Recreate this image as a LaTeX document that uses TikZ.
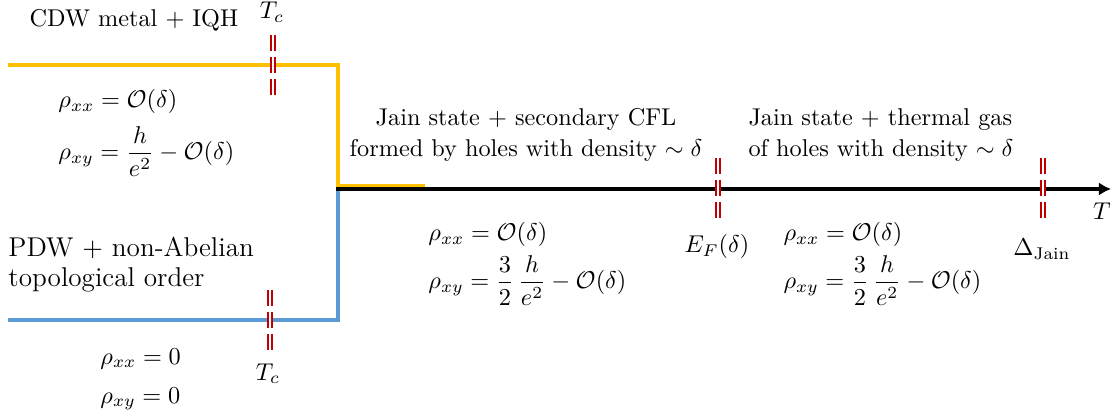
\documentclass[tikz,border=0pt]{standalone}
\usepackage{amsmath}
\usetikzlibrary{arrows.meta}
\definecolor{gold}{HTML}{FFC000}
\definecolor{sblue}{HTML}{5B9BD5}
\definecolor{mred}{HTML}{C00000}
\begin{document}
\begin{tikzpicture}[x=0.412pt,y=-0.412pt,
  lbl/.style={inner sep=0pt, anchor=base west},
  clbl/.style={inner sep=0pt, anchor=base},
  bigtxt/.style={font=\fontsize{11.2pt}{13pt}\selectfont},
  tmark/.style={draw=mred, double=white, double distance=0.8pt, line width=0.75pt, dash pattern=on 6.6pt off 2.5pt},
  phase/.style={line width=1.6pt, line join=miter},
]
\useasboundingbox (0,0) rectangle (1111,417);
% coordinates
\coordinate (o1) at (8,65);
\coordinate (o2) at (338,65);
\coordinate (o3) at (338,186);
\coordinate (o4) at (425,186);
\coordinate (b1) at (338,190);
\coordinate (b2) at (338,320);
\coordinate (b3) at (8,320);
\coordinate (a1) at (336,189);
\coordinate (a2) at (1111,189);
% lines
\draw[phase, gold] (o1) -- (o2) -- (o3) -- (o4);
\draw[phase, sblue] (b1) -- (b2) -- (b3);
\draw[phase, black, -{Latex[length=5pt,width=5.5pt]}] (a1) -- (a2);
% marks
\coordinate (m1a) at (273,35); \coordinate (m1b) at (273,95);
\coordinate (m2a) at (270,290); \coordinate (m2b) at (270,350);
\coordinate (m3a) at (718,158); \coordinate (m3b) at (718,218);
\coordinate (m4a) at (1043,158); \coordinate (m4b) at (1043,218);
\draw[tmark] (m1a) -- (m1b);
\draw[tmark] (m2a) -- (m2b);
\draw[tmark] (m3a) -- (m3b);
\draw[tmark] (m4a) -- (m4b);
% labels
\node[clbl] (tc1) at (272,19) {$T_c$};
\node[clbl] (tc2) at (268,380) {$T_c$};
\node[clbl] (ef) at (717,253) {$E_F(\delta)$};
\node[clbl] (dj) at (1042,256) {$\Delta_{\text{Jain}}$};
\node[clbl] (tt) at (1102,220) {$T$};
% phase texts
\node[clbl] (cdw) at (134,27) {CDW metal $+$ IQH};
\node[lbl] (cdwx) at (58,108) {$\rho_{xx}=\mathcal{O}(\delta)$};
\node[lbl] (cdwy) at (58,160) {$\displaystyle\rho_{xy}=\frac{h}{e^2}-\mathcal{O}(\delta)$};
\node[lbl, bigtxt] (pdw1) at (8,257) {PDW $+$ non-Abelian};
\node[lbl, bigtxt] (pdw2) at (8,287) {topological order};
\node[lbl] (pdwx) at (100,364) {$\rho_{xx}=0$};
\node[lbl] (pdwy) at (100,403) {$\rho_{xy}=0$};
\node[clbl] (j1a) at (526,126) {Jain state $+$ secondary CFL};
\node[clbl] (j1b) at (526,157) {formed by holes with density $\sim\delta$};
\node[lbl] (j1x) at (428,241) {$\rho_{xx}=\mathcal{O}(\delta)$};
\node[lbl] (j1y) at (428,289) {$\displaystyle\rho_{xy}=\frac{3}{2}\,\frac{h}{e^2}-\mathcal{O}(\delta)$};
\node[lbl] (j2a) at (748,126) {Jain state $+$ thermal gas};
\node[lbl] (j2b) at (748,157) {of holes with density $\sim\delta$};
\node[lbl] (j2x) at (783,241) {$\rho_{xx}=\mathcal{O}(\delta)$};
\node[lbl] (j2y) at (783,289) {$\displaystyle\rho_{xy}=\frac{3}{2}\,\frac{h}{e^2}-\mathcal{O}(\delta)$};
\end{tikzpicture}
\end{document}
